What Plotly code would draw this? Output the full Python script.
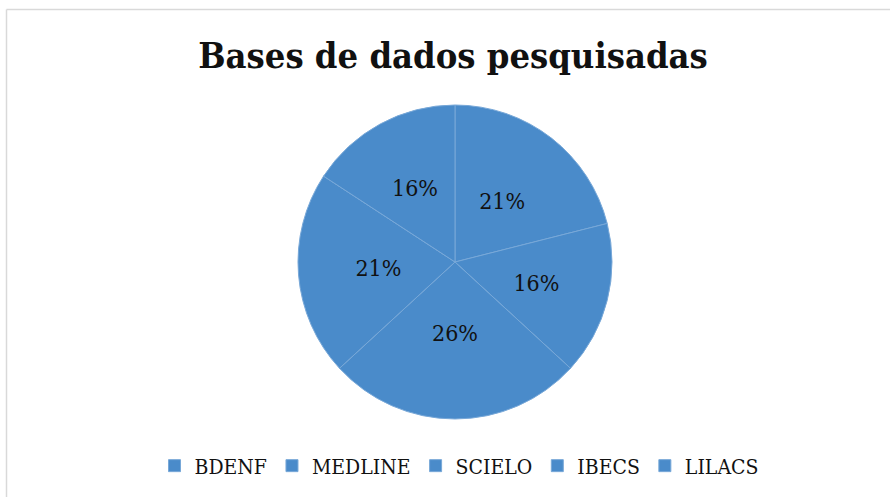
import plotly.graph_objects as go

categories = ["BDENF", "MEDLINE", "SCIELO", "IBECS", "LILACS"]
values = [4, 3, 5, 4, 3]
title_text = "Bases de dados pesquisadas"

W, H = 890, 497
blue = "#4a8bca"
font_family = "DejaVu Serif Condensed"

cx, cy, R = 455, 262, 157
r_lab = 124

fig = go.Figure()
fig.add_trace(go.Pie(
    labels=categories,
    values=values,
    sort=False,
    direction="clockwise",
    rotation=0,
    marker=dict(colors=[blue] * len(categories), line=dict(color="#78a8d8", width=1)),
    textinfo="none",
    domain=dict(x=[(cx - R) / W, (cx + R) / W], y=[(H - cy - R) / H, (H - cy + R) / H]),
    hoverinfo="label+percent",
))
fig.add_trace(go.Pie(
    labels=categories,
    values=values,
    sort=False,
    direction="clockwise",
    rotation=0,
    marker=dict(colors=["rgba(0,0,0,0)"] * len(categories), line=dict(width=0)),
    texttemplate="%{percent:.0%}",
    textposition="inside",
    insidetextorientation="horizontal",
    textfont=dict(family=font_family, size=23, color="#111111"),
    domain=dict(x=[(cx - r_lab) / W, (cx + r_lab) / W], y=[(H - cy - r_lab) / H, (H - cy + r_lab) / H]),
    showlegend=False,
    hoverinfo="skip",
))

fig.update_layout(
    width=W, height=H,
    margin=dict(l=0, r=0, t=0, b=0),
    paper_bgcolor="white",
    plot_bgcolor="white",
    title=dict(text="<b>" + title_text + "</b>", x=453 / W, xanchor="center",
               y=1 - 55 / H, yanchor="middle", yref="container",
               font=dict(family=font_family, size=36, color="#111111")),
    legend=dict(orientation="h", x=459 / W, xanchor="center", y=(H - 466) / H, yanchor="middle",
                font=dict(family=font_family, size=21, color="#111111"),
                itemwidth=30, traceorder="normal"),
    showlegend=True,
    shapes=[
        dict(type="line", xref="paper", yref="paper", x0=6.5 / W, x1=1, y0=1 - 9.5 / H, y1=1 - 9.5 / H,
             line=dict(color="#d9d9d9", width=1.5)),
        dict(type="line", xref="paper", yref="paper", x0=6.5 / W, x1=6.5 / W, y0=0, y1=1 - 9.5 / H,
             line=dict(color="#d9d9d9", width=1.5)),
    ],
)

fig.write_html("out.html", config={"displayModeBar": False},
               post_script="document.body.style.margin='0';")
